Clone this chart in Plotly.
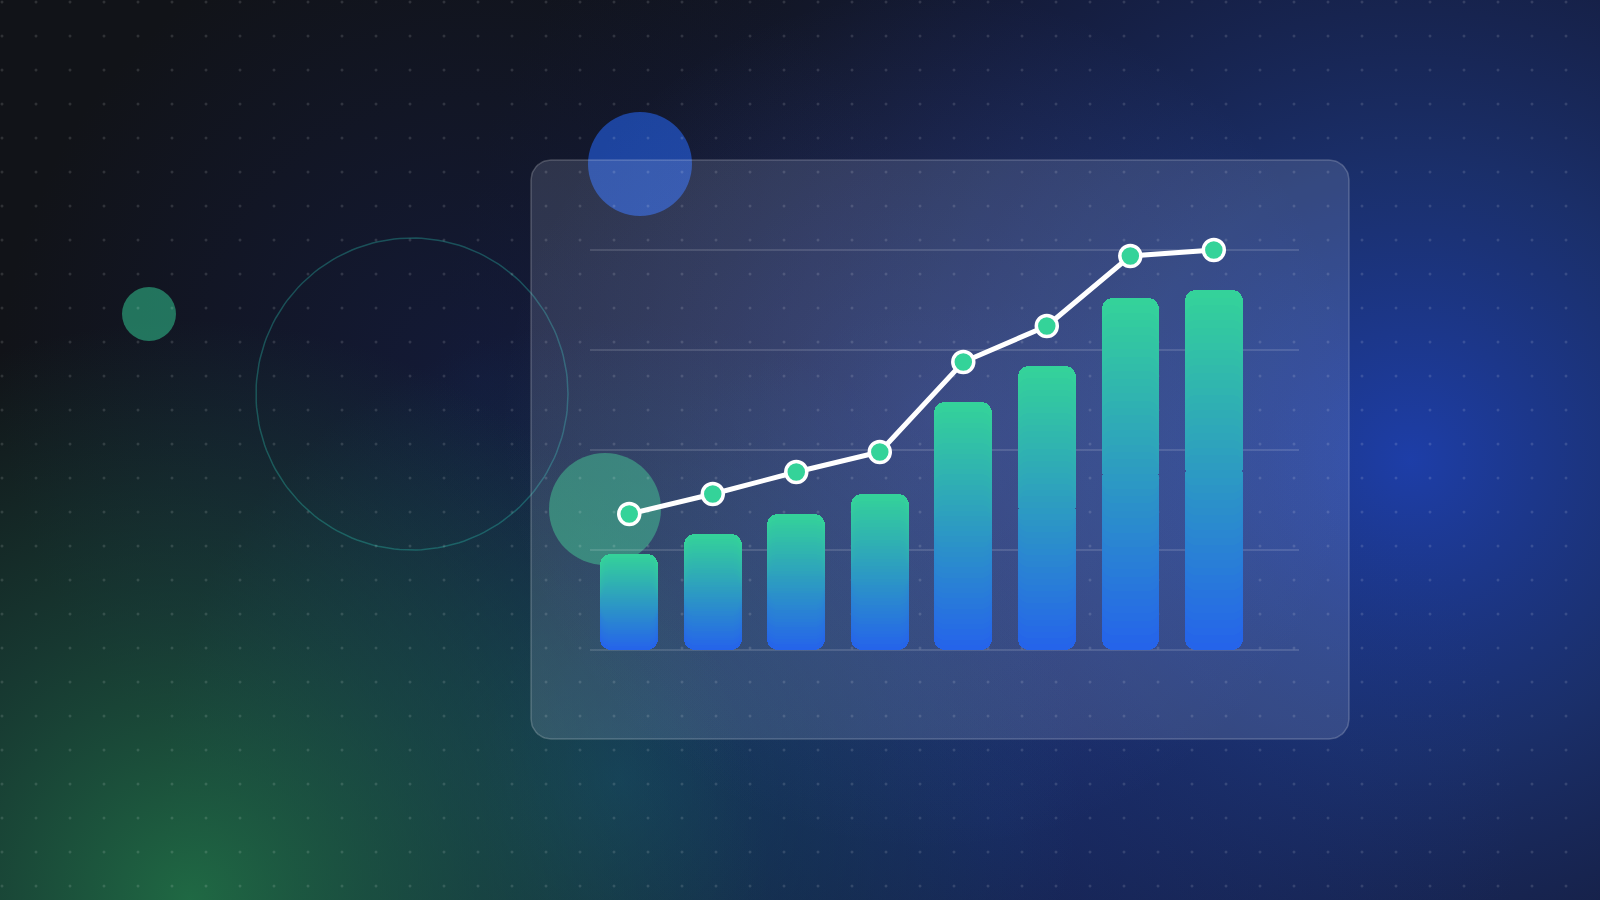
import numpy as np
import plotly.graph_objects as go

# ---------------- data ----------------
periods = ["P1", "P2", "P3", "P4", "P5", "P6", "P7", "P8"]
bar_values = [24, 29, 34, 39, 62, 71, 88, 90]
line_values = [34, 39, 44.5, 49.5, 72, 81, 98.5, 100]
grid_ticks = [0, 25, 50, 75, 100]

# ---------------- style ----------------
W, H = 1600, 900
BG = "#111318"
GREEN = (52, 211, 153)
BLUE = (37, 99, 235)
N_STEPS = 24
SEAM = 0.4  # overlap between bar halves (axis units)


def mix(t):
    c = [round(BLUE[i] + (GREEN[i] - BLUE[i]) * t) for i in range(3)]
    return f"rgb({c[0]},{c[1]},{c[2]})"


def circle(cx, cy, r, n=180):
    a = np.linspace(0, 2 * np.pi, n)
    return cx + r * np.cos(a), cy + r * np.sin(a)


def rounded_rect(x0, y0, x1, y1, r, n=16):
    xs, ys = [], []
    corners = [(x1 - r, y0 + r, -np.pi / 2, 0), (x1 - r, y1 - r, 0, np.pi / 2),
               (x0 + r, y1 - r, np.pi / 2, np.pi), (x0 + r, y0 + r, np.pi, 1.5 * np.pi)]
    for cx, cy, a0, a1 in corners:
        a = np.linspace(a0, a1, n)
        xs += list(cx + r * np.cos(a))
        ys += list(cy + r * np.sin(a))
    xs.append(xs[0])
    ys.append(ys[0])
    return xs, ys


def blob(cx, cy, r, stops):
    x, y = circle(cx, cy, r)
    return go.Scatter(x=x, y=y, fill="toself", mode="none",
                      fillgradient=dict(type="radial", colorscale=stops),
                      hoverinfo="skip", xaxis="x", yaxis="y")


fig = go.Figure()

# background glows
fig.add_trace(blob(1410, 460, 980, [[0, "rgba(30,64,175,0.95)"], [0.3, "rgba(30,58,138,0.72)"],
                                    [0.6, "rgba(25,40,105,0.45)"], [1, "rgba(20,28,70,0)"]]))
fig.add_trace(blob(1000, 820, 520, [[0, "rgba(30,60,150,0.35)"], [1, "rgba(30,60,150,0)"]]))
fig.add_trace(blob(480, 380, 480, [[0, "rgba(22,35,95,0.45)"], [1, "rgba(22,35,95,0)"]]))
fig.add_trace(blob(620, 780, 460, [[0, "rgba(22,85,125,0.55)"], [1, "rgba(22,85,125,0)"]]))
fig.add_trace(blob(190, 900, 580, [[0, "rgba(34,120,75,0.85)"], [0.5, "rgba(30,100,78,0.45)"],
                                   [1, "rgba(30,100,78,0)"]]))

# decorative circles
ox, oy = circle(412, 394, 156)
fig.add_trace(go.Scatter(x=ox, y=oy, mode="lines", line=dict(color="rgba(45,212,191,0.3)", width=1.5),
                         hoverinfo="skip", xaxis="x", yaxis="y"))
fig.add_trace(go.Scatter(x=[149], y=[314], mode="markers",
                         marker=dict(size=54, color="rgba(52,211,153,0.5)", line_width=0),
                         hoverinfo="skip", xaxis="x", yaxis="y"))
fig.add_trace(go.Scatter(x=[640], y=[164], mode="markers",
                         marker=dict(size=104, color="rgba(37,99,235,0.6)", line_width=0),
                         hoverinfo="skip", xaxis="x", yaxis="y"))

# glass card
cx_, cy_ = rounded_rect(531, 160, 1349, 739, 20)
fig.add_trace(go.Scatter(x=cx_, y=cy_, mode="lines", fill="toself",
                         fillcolor="rgba(210,222,255,0.15)",
                         line=dict(color="rgba(255,255,255,0.2)", width=1.5),
                         hoverinfo="skip", xaxis="x", yaxis="y"))
fig.add_trace(blob(930, 420, 430, [[0, "rgba(99,130,246,0.2)"], [1, "rgba(99,130,246,0)"]]))

# green bubble behind first bar
fig.add_trace(go.Scatter(x=[605], y=[509], mode="markers",
                         marker=dict(size=112, color="rgba(70,200,150,0.5)", line_width=0),
                         hoverinfo="skip", xaxis="x", yaxis="y"))

# dot grid
gx = np.arange(2, W, 34)
gy = np.arange(2, H, 34)
DX, DY = np.meshgrid(gx, gy)
fig.add_trace(go.Scatter(x=DX.ravel(), y=DY.ravel(), mode="markers",
                         marker=dict(size=3, color="rgba(255,255,255,0.13)", line_width=0),
                         hoverinfo="skip", xaxis="x", yaxis="y"))

# ---------------- bars (vertical gradient, rounded both ends) ----------------
mid = [v / 2 for v in bar_values]
for k in range(N_STEPS, 0, -1):
    t = 0.5 + 0.5 * (k - 0.5) / N_STEPS
    fig.add_trace(go.Bar(x=periods, y=[v / 2 * k / N_STEPS + SEAM for v in bar_values],
                         base=[m - SEAM for m in mid],
                         width=0.69, marker=dict(color=mix(t), cornerradius=11, line_width=0),
                         hoverinfo="skip", xaxis="x2", yaxis="y2"))
for k in range(N_STEPS, 0, -1):
    t = 0.5 - 0.5 * (k - 0.5) / N_STEPS
    fig.add_trace(go.Bar(x=periods, y=[-v / 2 * k / N_STEPS for v in bar_values], base=mid,
                         width=0.69, marker=dict(color=mix(t), cornerradius=11, line_width=0),
                         hoverinfo="skip", xaxis="x2", yaxis="y2"))

# line
fig.add_trace(go.Scatter(x=periods, y=line_values, mode="lines+markers",
                         line=dict(color="white", width=5),
                         marker=dict(size=21, color="#34d399", line=dict(color="white", width=3.5)),
                         cliponaxis=False, hoverinfo="skip", xaxis="x2", yaxis="y2"))

fig.update_layout(
    width=W, height=H, margin=dict(l=0, r=0, t=0, b=0),
    paper_bgcolor=BG, plot_bgcolor="rgba(0,0,0,0)",
    showlegend=False, barmode="overlay", bargap=0,
    xaxis=dict(domain=[0, 1], range=[0, W], visible=False, fixedrange=True),
    yaxis=dict(domain=[0, 1], range=[H, 0], visible=False, fixedrange=True),
    xaxis2=dict(domain=[590 / W, 1299 / W], range=[-0.47, 8.02], anchor="y2", type="category",
                showticklabels=False, showgrid=False, zeroline=False, showline=False, ticks=""),
    yaxis2=dict(domain=[0, 1], range=[-62.5, 162.5], anchor="x2", tickvals=grid_ticks,
                showticklabels=False, showgrid=True, gridcolor="rgba(255,255,255,0.13)",
                gridwidth=1.5, zeroline=False, showline=False, ticks=""),
)

fig.write_html("out.html", config={"displayModeBar": False},
               post_script="document.body.style.margin='0';document.body.style.overflow='hidden';")
